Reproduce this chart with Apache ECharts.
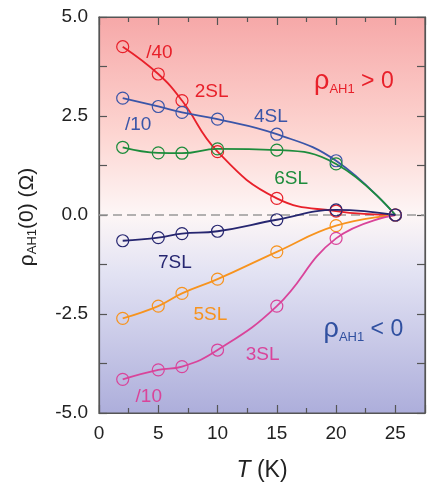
<!DOCTYPE html>
<html><head><meta charset="utf-8">
<script src="https://cdn.jsdelivr.net/npm/echarts@6/dist/echarts.min.js"></script>
<style>
html,body{margin:0;padding:0;background:#fff}
#wrap{position:relative;width:428px;height:489px}
#bg{position:absolute;left:0;top:0;width:0;height:0;
  background:linear-gradient(to bottom,#f6a8a8 0%,#fdd6d2 30%,#fdf6f6 50%,#e2e2f3 65%,#adaedb 100%)}
#c{position:relative;width:428px;height:489px}
</style>
</head><body><div id="wrap"><div id="bg"></div><div id="c"></div></div>
<script>
const temps = [2, 5, 7, 10, 15, 20, 25];
const sl2 = [4.25, 3.56, 2.89, 1.60, 0.42, 0.10, 0];
const sl4 = [2.95, 2.74, 2.59, 2.42, 2.04, 1.37, 0];
const sl6 = [1.71, 1.57, 1.56, 1.67, 1.64, 1.29, 0];
const sl7 = [-0.65, -0.57, -0.47, -0.41, -0.12, 0.13, 0];
const sl5 = [-2.61, -2.30, -1.98, -1.62, -0.93, -0.27, 0];
const sl3 = [-4.15, -3.91, -3.83, -3.41, -2.30, -0.59, 0];
const xTicks = [0, 5, 10, 15, 20, 25];
const yTicks = [-5, -2.5, 0, 2.5, 5];
const annotations = [
  [5.1, 4.09, '/40', '#e8202a'],
  [9.5, 3.1, '2SL', '#e8202a'],
  [14.5, 2.47, '4SL', '#3a55a8'],
  [3.3, 2.27, '/10', '#3a55a8'],
  [16.2, 0.91, '6SL', '#1d8c3c'],
  [6.4, -1.21, '7SL', '#262670'],
  [9.4, -2.53, '5SL', '#f7931e'],
  [13.8, -3.54, '3SL', '#d9449a'],
  [4.2, -4.6, '/10', '#d9449a']
];
const signLabels = [
  [21.5, 3.36, '>', '#e8202a'],
  [22.3, -2.9, '<', '#3050a0']
];

const FONT = '"Liberation Sans", Arial, sans-serif';
const chart = echarts.init(document.getElementById('c'));

function mk(name, vals, color) {
  return {
    name, type: 'line', data: temps.map((t, i) => [t, vals[i]]),
    xAxisIndex: 0, yAxisIndex: 0,
    smooth: 0.45, symbol: 'circle', symbolSize: 12, showSymbol: true,
    lineStyle: { color, width: 1.8 },
    itemStyle: { color: 'rgba(0,0,0,0)', borderColor: color, borderWidth: 1.2 },
    z: 3
  };
}
const axL = { color: '#555555', width: 1.2 };
const tickFmt = v => yTicks.some(t => Math.abs(t - v) < 1e-6) ? v.toFixed(1) : '';
const xFmt = v => xTicks.some(t => Math.abs(t - v) < 1e-6) ? String(v) : '';

chart.setOption({
  animation: false,
  backgroundColor: 'transparent',
  grid: { left: 99, right: 1, top: 17, bottom: 76, show: true,
          backgroundColor: 'transparent', borderColor: '#555555', borderWidth: 1.2 },
  xAxis: [{
    type: 'value', min: 0, max: 27.5, interval: 5, position: 'bottom',
    axisLine: { show: true, onZero: false, lineStyle: axL },
    axisTick: { show: true, inside: true, length: 8, lineStyle: axL },
    minorTick: { show: true, splitNumber: 2, length: 5, lineStyle: axL },
    splitLine: { show: false },
    axisLabel: { formatter: xFmt, fontSize: 19, color: '#222', fontFamily: FONT, margin: 11 }
  }, {
    type: 'value', min: 0, max: 27.5, interval: 5, position: 'top',
    axisLine: { show: true, onZero: false, lineStyle: axL },
    axisTick: { show: true, inside: true, length: 8, lineStyle: axL },
    minorTick: { show: true, splitNumber: 2, length: 5, lineStyle: axL },
    splitLine: { show: false }, axisLabel: { show: false }
  }],
  yAxis: [{
    type: 'value', min: -5, max: 5, interval: 1.25, position: 'left',
    axisLine: { show: true, onZero: false, lineStyle: axL },
    axisTick: { show: true, inside: true, length: 8, lineStyle: axL },
    splitLine: { show: false },
    axisLabel: { formatter: tickFmt, fontSize: 19, color: '#222', fontFamily: FONT, margin: 11 }
  }, {
    type: 'value', min: -5, max: 5, interval: 1.25, position: 'right',
    axisLine: { show: true, onZero: false, lineStyle: axL },
    axisTick: { show: true, inside: true, length: 8, lineStyle: axL },
    splitLine: { show: false }, axisLabel: { show: false }
  }],
  series: [
    mk('2SL', sl2, '#e8202a'),
    mk('4SL', sl4, '#3a55a8'),
    mk('6SL', sl6, '#1d8c3c'),
    mk('5SL', sl5, '#f7931e'),
    mk('3SL', sl3, '#d9449a'),
    mk('7SL', sl7, '#262670')
  ]
});

// Positions from the chart's own scales
const P = v => chart.convertToPixel({ gridIndex: 0 }, v);
const tl = P([0, 5]);
const br = P([27.5, -5]);
const bg = document.getElementById('bg');
bg.style.left = tl[0] + 'px';
bg.style.top = tl[1] + 'px';
bg.style.width = (br[0] - tl[0]) + 'px';
bg.style.height = (br[1] - tl[1]) + 'px';

const z0a = P([0, 0]), z0b = P([27.5, 0]);
const elements = [{
  type: 'line', silent: true, z: 1,
  shape: { x1: z0a[0], y1: z0a[1], x2: z0b[0], y2: z0b[1] },
  style: { stroke: '#999999', lineWidth: 1.5, lineDash: [9, 5] }
}];
annotations.forEach(a => {
  const p = P([a[0], a[1]]);
  elements.push({
    type: 'text', silent: true, z: 5, x: p[0], y: p[1],
    style: { text: a[2], fill: a[3], fontSize: 19, fontFamily: FONT,
             align: 'center', verticalAlign: 'middle' }
  });
});
signLabels.forEach(a => {
  const p = P([a[0], a[1]]);
  elements.push({
    type: 'text', silent: true, z: 5, x: p[0], y: p[1],
    style: {
      text: '{p|ρ}{s|AH1}{r| ' + a[2] + ' 0}', align: 'center', verticalAlign: 'middle',
      fill: a[3], fontFamily: FONT,
      rich: {
        p: { fontSize: 27, fill: a[3], fontFamily: FONT, lineHeight: 28 },
        s: { fontSize: 13, fill: a[3], fontFamily: FONT, lineHeight: 14, verticalAlign: 'bottom' },
        r: { fontSize: 23, fill: a[3], fontFamily: FONT, lineHeight: 28 }
      }
    }
  });
});
// Axis titles, placed relative to the plot frame
const midX = (tl[0] + br[0]) / 2, midY = (tl[1] + br[1]) / 2;
elements.push({
  type: 'text', silent: true, x: midX, y: br[1] + 58,
  style: {
    text: '{i|T} (K)', align: 'center', verticalAlign: 'middle',
    fill: '#222', fontSize: 23, fontFamily: FONT,
    rich: { i: { fontStyle: 'italic', fontSize: 23, fill: '#222', fontFamily: FONT } }
  }
});
elements.push({
  type: 'text', silent: true, x: tl[0] - 72, y: midY + 2, rotation: Math.PI / 2,
  style: {
    text: '{r|ρ}{s|AH1}{r|(0) (Ω)}', align: 'center', verticalAlign: 'middle',
    fill: '#222', fontFamily: FONT,
    rich: {
      r: { fontSize: 21, fill: '#222', fontFamily: FONT, lineHeight: 24 },
      s: { fontSize: 13, fill: '#222', fontFamily: FONT, lineHeight: 14, verticalAlign: 'bottom' }
    }
  }
});
chart.setOption({ graphic: { elements } });
</script></body></html>
